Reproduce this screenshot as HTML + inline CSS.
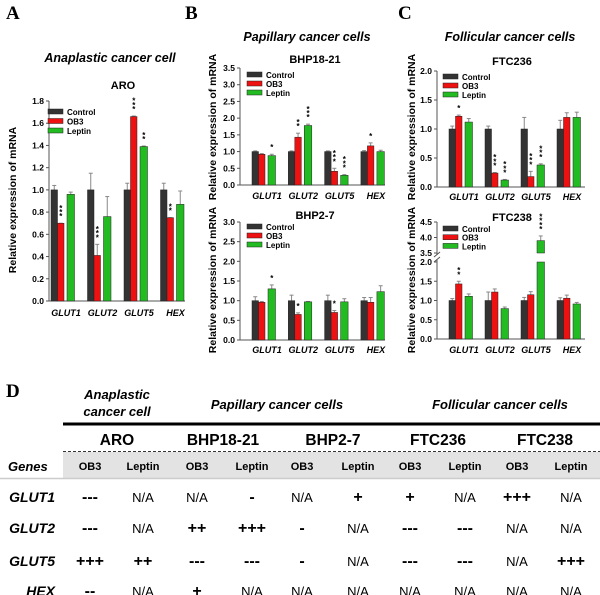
<!DOCTYPE html>
<html><head><meta charset="utf-8"><style>
html,body{margin:0;padding:0;background:#fff;}
body{width:600px;height:595px;position:relative;overflow:hidden;font-family:"Liberation Sans",Arial,sans-serif;}
svg{position:absolute;left:0;top:0;}
</style></head><body>
<svg id="fig" width="600" height="595" viewBox="0 0 600 595" xmlns="http://www.w3.org/2000/svg">
<g font-family="Liberation Serif, serif" font-weight="bold" font-size="19">
<text x="6" y="19">A</text>
<text x="185" y="19">B</text>
<text x="398" y="19">C</text>
<text x="6" y="397">D</text>
</g>
<g font-weight="bold" font-style="italic" font-size="12.5" text-anchor="middle">
<text x="110" y="62">Anaplastic cancer cell</text>
<text x="307" y="41">Papillary cancer cells</text>
<text x="510" y="41">Follicular cancer cells</text>
</g>
<g id="charts"></g>
<g id="table"></g>
</svg>
<script>
const categories = ["GLUT1","GLUT2","GLUT5","HEX"];
const seriesNames = ["Control","OB3","Leptin"];
// ARO
const aroControl = [1.0,1.0,1.0,1.0];
const aroControlErr = [0.04,0.15,0.06,0.06];
const aroOB3 = [0.70,0.41,1.66,0.75];
const aroOB3Err = [0.0,0.10,0.005,0.0];
const aroLeptin = [0.96,0.76,1.39,0.87];
const aroLeptinErr = [0.02,0.18,0.005,0.12];
const aroStars = [["","***",""],["","***",""],["","***","**"],["","**",""]];
// BHP18-21
const bhp18Control = [1.0,1.0,1.0,1.0];
const bhp18ControlErr = [0.02,0.02,0.02,0.03];
const bhp18OB3 = [0.92,1.43,0.41,1.17];
const bhp18OB3Err = [0.02,0.12,0.09,0.09];
const bhp18Leptin = [0.88,1.78,0.29,1.0];
const bhp18LeptinErr = [0.04,0.04,0.02,0.04];
const bhp18Stars = [["","","*"],["","**","***"],["","***","***"],["","*",""]];
// BHP2-7
const bhp2Control = [1.0,1.0,1.0,1.0];
const bhp2ControlErr = [0.1,0.14,0.14,0.08];
const bhp2OB3 = [0.96,0.65,0.70,0.96];
const bhp2OB3Err = [0.02,0.04,0.05,0.12];
const bhp2Leptin = [1.30,0.97,0.97,1.23];
const bhp2LeptinErr = [0.1,0.01,0.08,0.15];
const bhp2Stars = [["","","*"],["","*",""],["","*",""],["","",""]];
// FTC236
const ftc236Control = [1.0,1.0,1.0,1.0];
const ftc236ControlErr = [0.05,0.05,0.2,0.15];
const ftc236OB3 = [1.22,0.24,0.18,1.2];
const ftc236OB3Err = [0.02,0.01,0.09,0.08];
const ftc236Leptin = [1.12,0.12,0.38,1.2];
const ftc236LeptinErr = [0.06,0.01,0.02,0.09];
const ftc236Stars = [["","*",""],["","***","***"],["","***","***"],["","",""]];
// FTC238
const ftc238Control = [1.0,1.0,1.0,1.0];
const ftc238ControlErr = [0.05,0.22,0.08,0.07];
const ftc238OB3 = [1.43,1.22,1.15,1.06];
const ftc238OB3Err = [0.07,0.08,0.08,0.08];
const ftc238Leptin = [1.11,0.79,3.9,0.91];
const ftc238LeptinErr = [0.06,0.04,0.15,0.04];
const ftc238Stars = [["","**",""],["","",""],["","","****"],["","",""]];
const ticksA = ["0.0","0.2","0.4","0.6","0.8","1.0","1.2","1.4","1.6","1.8"];
const ticksB1 = ["0.0","0.5","1.0","1.5","2.0","2.5","3.0","3.5"];
const ticksB2 = ["0.0","0.5","1.0","1.5","2.0","2.5","3.0"];
const ticksC1 = ["0.0","0.5","1.0","1.5","2.0"];
const ticksC2Low = ["0.0","0.5","1.0","1.5","2.0"];
const ticksC2High = ["3.5","4.0","4.5"];

const NS="http://www.w3.org/2000/svg";
const colors=["#333333","#ee1111","#22bb22"];
function mk(tag,attrs,parent){const e=document.createElementNS(NS,tag);for(const k in attrs)e.setAttribute(k,attrs[k]);parent.appendChild(e);return e;}

function drawChart(cfg){
  const g=mk("g",{},document.getElementById("charts"));
  
  
  const y=v=>{
    if(!cfg.brk) return cfg.y0-(v/cfg.max)*(cfg.y0-cfg.ytop);
    if(v<=2) return cfg.y0-(v/2)*(cfg.y0-cfg.brkLow);
    return cfg.brkHigh-((v-3.5)/1.0)*(cfg.brkHigh-cfg.ytop);
  };
  const xs=i=>cfg.x0+cfg.off+i*cfg.sp;
  // axes
  const ax=mk("g",{stroke:"#555","stroke-width":"1"},g);
  
  
  mk("line",{x1:cfg.x0,x2:cfg.x1,y1:cfg.y0,y2:cfg.y0},ax);
  if(cfg.brk){
    mk("line",{x1:cfg.x0,x2:cfg.x0,y1:cfg.y0,y2:cfg.brkLow-2},ax);
    mk("line",{x1:cfg.x0,x2:cfg.x0,y1:cfg.brkHigh+2,y2:cfg.ytop},ax);
    mk("line",{x1:cfg.x0-3,x2:cfg.x0+3,y1:cfg.brkLow,y2:cfg.brkLow-5},ax);
    mk("line",{x1:cfg.x0-3,x2:cfg.x0+3,y1:cfg.brkHigh+4,y2:cfg.brkHigh-1},ax);
  } else mk("line",{x1:cfg.x0,x2:cfg.x0,y1:cfg.y0,y2:cfg.ytop},ax);
  cfg.ticks.forEach(t=>{
    const yy=y(parseFloat(t));
    mk("line",{x1:cfg.x0-3,x2:cfg.x0,y1:yy,y2:yy,stroke:"#555"},g);
    const tx=mk("text",{x:cfg.x0-5,y:yy+3,"text-anchor":"end","font-size":"8.5","font-weight":"bold"},g);
    tx.textContent=t;
    
    
  });
  // bars
  const off=[0,6.5,16], w=[6.5,6.5,7.5];
  categories.forEach((c,i)=>{
    cfg.series.forEach((s,k)=>{
      const v=s[i], e=cfg.errs[k][i];
      const bx=xs(i)+off[k];
      const top=y(v);
      // error bar
      const et=y(v+e);
      mk("line",{x1:bx+w[k]/2,x2:bx+w[k]/2,y1:top,y2:et,stroke:"#888"},g);
      mk("line",{x1:bx+w[k]/2-2,x2:bx+w[k]/2+2,y1:et,y2:et,stroke:"#888"},g);
      if(cfg.brk && v>2){
        const r1=mk("rect",{x:bx,y:y(2),width:w[k],height:cfg.y0-y(2),fill:colors[k],stroke:"#222","stroke-width":"0.5"},g);
        
        
        const r2=mk("rect",{x:bx,y:top,width:w[k],height:cfg.brkHigh-top,fill:colors[k],stroke:"#222","stroke-width":"0.5"},g);
        
        
      } else {
        const r=mk("rect",{x:bx,y:top,width:w[k],height:cfg.y0-top,fill:colors[k],stroke:"#222","stroke-width":"0.5"},g);
        
        
      }
      const st=cfg.stars[i][k];
      for(let j=0;j<st.length;j++){
        const s2=mk("text",{x:bx+w[k]/2,y:et-4-j*4.2,"text-anchor":"middle","font-size":"8","font-weight":"bold"},g);
        s2.textContent="*";
        
        
      }
    });
    const cl=mk("text",{x:xs(i)+15,y:cfg.labY,"text-anchor":"middle","font-size":"9","font-weight":"bold","font-style":"italic"},g);
    cl.textContent=c;
    
    
  });
  const tt=mk("text",{x:cfg.tx,y:cfg.ty,"text-anchor":"middle","font-size":"11","font-weight":"bold"},g);
  tt.textContent=cfg.title;
  
  
  const yt=mk("text",{x:0,y:0,"text-anchor":"middle","font-size":"10.5","font-weight":"bold",transform:`translate(${cfg.yx},${cfg.yc}) rotate(-90)`},g);
  yt.textContent="Relative expression of mRNA";
  
  
  seriesNames.forEach((n,k)=>{
    const ly=cfg.ly+k*cfg.lsp;
    const sw=mk("rect",{x:cfg.lx,y:ly-3,width:15,height:5,fill:colors[k],stroke:"#222","stroke-width":"0.5"},g);
    
    
    const lt=mk("text",{x:cfg.lx+19,y:ly+3,"font-size":"8","font-weight":"bold"},g);
    lt.textContent=n;
    
    
  });
}
drawChart({name:"chart-aro",x0:49,x1:185,y0:301,ytop:101,max:1.8,off:2,sp:36.5,ticks:ticksA,series:[aroControl,aroOB3,aroLeptin],errs:[aroControlErr,aroOB3Err,aroLeptinErr],stars:aroStars,labY:316,title:"ARO",tx:123,ty:89,yx:16,yc:200,lx:48,ly:112,lsp:9.5});
drawChart({name:"chart-bhp18-21",x0:240,x1:385,y0:185,ytop:68,max:3.5,off:12,sp:36.3,ticks:ticksB1,series:[bhp18Control,bhp18OB3,bhp18Leptin],errs:[bhp18ControlErr,bhp18OB3Err,bhp18LeptinErr],stars:bhp18Stars,labY:199,title:"BHP18-21",tx:315,ty:63,yx:216,yc:127,lx:247,ly:75,lsp:9});
drawChart({name:"chart-bhp2-7",x0:240,x1:385,y0:340,ytop:222,max:3.0,off:12,sp:36.3,ticks:ticksB2,series:[bhp2Control,bhp2OB3,bhp2Leptin],errs:[bhp2ControlErr,bhp2OB3Err,bhp2LeptinErr],stars:bhp2Stars,labY:353,title:"BHP2-7",tx:315,ty:219,yx:216,yc:280,lx:247,ly:227,lsp:9});
drawChart({name:"chart-ftc236",x0:437,x1:585,y0:187,ytop:71,max:2.0,off:12,sp:36,ticks:ticksC1,series:[ftc236Control,ftc236OB3,ftc236Leptin],errs:[ftc236ControlErr,ftc236OB3Err,ftc236LeptinErr],stars:ftc236Stars,labY:200,title:"FTC236",tx:512,ty:65,yx:415,yc:127,lx:443,ly:77,lsp:9});
drawChart({name:"chart-ftc238",x0:437,x1:585,y0:339,ytop:222,brk:true,brkLow:262,brkHigh:253,max:4.5,off:12,sp:36,ticks:ticksC2Low.concat(ticksC2High),series:[ftc238Control,ftc238OB3,ftc238Leptin],errs:[ftc238ControlErr,ftc238OB3Err,ftc238LeptinErr],stars:ftc238Stars,labY:353,title:"FTC238",tx:512,ty:221,yx:415,yc:280,lx:443,ly:229,lsp:8.7});

// table
const cellLines = ["ARO","BHP18-21","BHP2-7","FTC236","FTC238"];
const treatCols = ["OB3","Leptin","OB3","Leptin","OB3","Leptin","OB3","Leptin","OB3","Leptin"];
const genes = ["GLUT1","GLUT2","GLUT5","HEX"];
const tableVals = [
 ["---","N/A","N/A","-","N/A","+","+","N/A","+++","N/A"],
 ["---","N/A","++","+++","-","N/A","---","---","N/A","N/A"],
 ["+++","++","---","---","-","N/A","---","---","N/A","+++"],
 ["--","N/A","+","N/A","N/A","N/A","N/A","N/A","N/A","N/A"]];
(function(){
  const t=document.getElementById("table");
  const colX=[90,143,197,252,302,358,410,465,517,571];
  const lineX=[117,223,333,438,545];
  const rowY=[502,533,566,596];
  const h=[["Anaplastic",117,399],["cancer cell",117,416],["Papillary cancer cells",277,409],["Follicular cancer cells",500,409]];
  h.forEach(a=>{const e=mk("text",{x:a[1],y:a[2],"text-anchor":"middle","font-size":"13","font-weight":"bold","font-style":"italic"},t);e.textContent=a[0];
    });
  mk("line",{x1:63,x2:600,y1:424,y2:424,stroke:"#000","stroke-width":"3"},t);
  cellLines.forEach((c,i)=>{const e=mk("text",{x:lineX[i],y:445,"text-anchor":"middle","font-size":"15.5","font-weight":"bold"},t);e.textContent=c;
    });
  mk("rect",{x:63,y:452,width:537,height:26,fill:"#e3e3e3"},t);
  mk("line",{x1:63,x2:600,y1:451.5,y2:451.5,stroke:"#333","stroke-width":"1","stroke-dasharray":"3,2"},t);
  mk("line",{x1:0,x2:600,y1:478.5,y2:478.5,stroke:"#ccc","stroke-width":"1.5"},t);
  const gh=mk("text",{x:8,y:471,"font-size":"13","font-weight":"bold","font-style":"italic"},t);gh.textContent="Genes";
  
  treatCols.forEach((c,i)=>{const e=mk("text",{x:colX[i],y:470,"text-anchor":"middle","font-size":"11","font-weight":"bold"},t);e.textContent=c;
    });
  genes.forEach((gname,r)=>{
    const e=mk("text",{x:55,y:rowY[r],"text-anchor":"end","font-size":"14","font-weight":"bold","font-style":"italic"},t);e.textContent=gname;
    
    tableVals[r].forEach((v,i)=>{
      const na=v==="N/A";
      const c=mk("text",{x:colX[i],y:rowY[r],"text-anchor":"middle","font-size":na?"13":"16","font-weight":na?"normal":"bold"},t);c.textContent=v;
      
    });
  });
})();
</script>
</body></html>
